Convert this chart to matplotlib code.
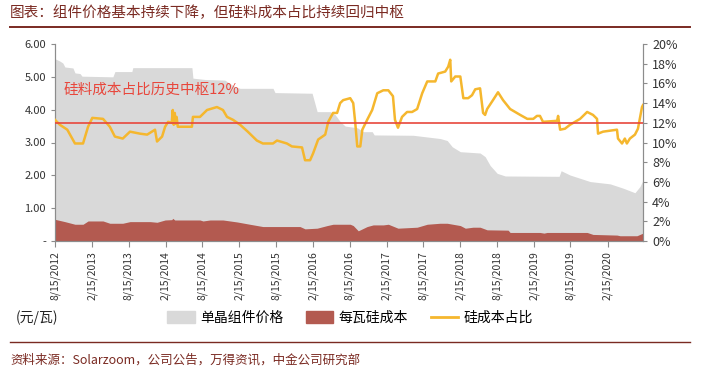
import matplotlib
matplotlib.use('Agg')
import matplotlib.pyplot as plt
from matplotlib.patches import Patch
from matplotlib.lines import Line2D
import pandas as pd

plt.rcParams['font.family'] = ['Noto Sans CJK SC', 'DejaVu Sans']

# module price (yuan/W)
price_dates = ['2012-08-15', '2012-09-08', '2012-09-23', '2012-10-03', '2012-11-12', '2012-11-22',
               '2012-12-17', '2012-12-27', '2013-05-29', '2013-06-08', '2013-08-31', '2013-09-05',
               '2014-06-25', '2014-06-30', '2014-08-29', '2014-12-05', '2015-01-24', '2015-02-19',
               '2015-08-01', '2015-08-11', '2016-02-11', '2016-03-07', '2016-05-10', '2016-06-04',
               '2016-06-29', '2016-07-24', '2016-09-22', '2016-10-22', '2016-12-05', '2016-12-15',
               '2017-06-26', '2017-11-08', '2017-12-12', '2018-01-06', '2018-02-15', '2018-05-24',
               '2018-06-18', '2018-07-13', '2018-08-17', '2018-09-26', '2019-06-20', '2019-06-30',
               '2019-08-13', '2019-11-21', '2020-02-28', '2020-05-02', '2020-06-30', '2020-07-25',
               '2020-08-09']
price = [5.55, 5.48, 5.42, 5.30, 5.27, 5.12,
         5.10, 5.02, 5.00, 5.16, 5.16, 5.28,
         5.28, 4.96, 4.92, 4.90, 4.70, 4.65,
         4.65, 4.52, 4.50, 3.94, 3.94, 3.85,
         3.64, 3.50, 3.45, 3.33, 3.33, 3.23,
         3.22, 3.12, 3.06, 2.87, 2.72, 2.68,
         2.57, 2.30, 2.06, 1.98, 1.97, 2.14,
         2.01, 1.81, 1.74, 1.61, 1.47, 1.66,
         1.85]

# silicon cost per W (yuan/W)
si_dates = ['2012-08-15', '2012-10-03', '2012-11-22', '2013-01-01', '2013-01-26', '2013-04-10',
            '2013-05-14', '2013-07-17', '2013-08-22', '2013-11-30', '2014-01-03', '2014-02-12',
            '2014-03-17', '2014-03-22', '2014-04-01', '2014-08-04', '2014-08-19', '2014-09-23',
            '2014-11-26', '2015-02-04', '2015-04-08', '2015-06-12', '2015-12-13', '2016-01-07',
            '2016-03-07', '2016-04-26', '2016-05-25', '2016-08-18', '2016-09-02', '2016-09-27',
            '2016-11-10', '2016-12-10', '2017-01-29', '2017-02-23', '2017-04-12', '2017-07-16',
            '2017-09-04', '2017-11-06', '2017-12-12', '2018-02-15', '2018-03-12', '2018-04-19',
            '2018-05-24', '2018-06-28', '2018-10-10', '2018-10-20', '2019-03-17', '2019-04-06',
            '2019-04-21', '2019-11-06', '2019-12-05', '2020-04-02', '2020-04-17', '2020-07-10',
            '2020-08-09']
si_cost = [0.66, 0.59, 0.51, 0.51, 0.61, 0.61,
           0.54, 0.54, 0.59, 0.59, 0.57, 0.64,
           0.65, 0.69, 0.64, 0.64, 0.61, 0.64,
           0.64, 0.58, 0.51, 0.44, 0.44, 0.37,
           0.39, 0.47, 0.51, 0.51, 0.47, 0.31,
           0.44, 0.49, 0.49, 0.51, 0.39, 0.42,
           0.51, 0.54, 0.54, 0.47, 0.39, 0.42,
           0.42, 0.34, 0.33, 0.26, 0.26, 0.24,
           0.26, 0.26, 0.20, 0.18, 0.16, 0.16,
           0.24]

# silicon cost share (%)
share_dates = ['2012-08-15', '2012-09-08', '2012-10-15', '2012-11-22', '2013-01-01', '2013-01-26',
               '2013-02-16', '2013-04-10', '2013-05-14', '2013-06-08', '2013-07-17', '2013-08-22',
               '2013-10-10', '2013-11-15', '2013-12-24', '2014-01-03', '2014-01-28', '2014-02-12',
               '2014-02-27', '2014-03-17', '2014-03-22', '2014-03-27', '2014-04-01', '2014-04-05',
               '2014-04-10', '2014-04-16', '2014-06-25', '2014-06-30', '2014-08-04', '2014-09-08',
               '2014-10-27', '2014-11-26', '2014-12-16', '2015-01-15', '2015-02-19', '2015-03-29',
               '2015-05-13', '2015-06-12', '2015-08-01', '2015-08-21', '2015-10-09', '2015-11-03',
               '2015-12-23', '2016-01-07', '2016-02-01', '2016-02-16', '2016-03-12', '2016-04-16',
               '2016-05-01', '2016-05-25', '2016-06-14', '2016-06-29', '2016-07-14', '2016-08-18',
               '2016-09-02', '2016-09-12', '2016-09-22', '2016-10-07', '2016-10-17', '2016-11-10',
               '2016-12-05', '2016-12-30', '2017-01-29', '2017-02-23', '2017-03-18', '2017-03-28',
               '2017-04-12', '2017-05-02', '2017-05-27', '2017-06-21', '2017-07-16', '2017-08-10',
               '2017-09-04', '2017-10-14', '2017-10-28', '2017-12-02', '2017-12-17', '2017-12-27',
               '2018-01-01', '2018-01-21', '2018-02-15', '2018-03-02', '2018-03-26', '2018-04-14',
               '2018-04-30', '2018-05-24', '2018-06-08', '2018-06-18', '2018-06-28', '2018-07-27',
               '2018-08-21', '2018-09-15', '2018-10-20', '2018-12-09', '2019-01-13', '2019-02-12',
               '2019-03-02', '2019-03-17', '2019-04-01', '2019-06-10', '2019-06-15', '2019-06-25',
               '2019-07-19', '2019-08-13', '2019-10-02', '2019-11-06', '2019-12-05', '2019-12-25',
               '2019-12-30', '2020-01-24', '2020-04-02', '2020-04-07', '2020-04-27', '2020-05-11',
               '2020-05-21', '2020-06-05', '2020-06-30', '2020-07-15', '2020-08-04', '2020-08-09']
share = [12.3, 11.8, 11.3, 9.9, 9.9, 11.6,
         12.5, 12.4, 11.6, 10.6, 10.4, 11.1,
         10.9, 10.8, 11.3, 10.1, 10.6, 11.6,
         12.1, 12.0, 13.3, 11.8, 13.0, 11.9,
         12.6, 11.6, 11.6, 12.6, 12.6, 13.3,
         13.6, 13.3, 12.6, 12.3, 11.8, 11.1,
         10.2, 9.9, 9.9, 10.2, 9.9, 9.6,
         9.5, 8.2, 8.2, 8.9, 10.3, 10.8,
         12.1, 13.0, 13.0, 14.0, 14.3, 14.5,
         14.0, 12.0, 9.6, 9.6, 11.3, 12.3,
         13.3, 15.0, 15.3, 15.3, 14.7, 12.3,
         11.5, 12.6, 13.1, 13.1, 13.4, 15.0,
         16.2, 16.2, 17.0, 17.2, 17.7, 18.4,
         16.2, 16.7, 16.7, 14.5, 14.5, 14.8,
         15.4, 15.5, 13.0, 12.8, 13.4, 14.3,
         15.1, 14.3, 13.4, 12.8, 12.4, 12.4,
         12.7, 12.7, 12.1, 12.2, 12.7, 11.3,
         11.4, 11.8, 12.4, 13.1, 12.8, 12.4,
         10.9, 11.1, 11.3, 10.4, 9.9, 10.4,
         9.9, 10.4, 10.8, 11.4, 13.6, 13.8]

center_share = 12

tick_dates = pd.date_range('2012-08-15', periods=16, freq=pd.DateOffset(months=6))

GRAY = '#d9d9d9'
BRICK = '#b35a50'
YELLOW = '#f5b72e'
LINE_RED = '#e8473c'
DARK = '#7a2a22'

fig = plt.figure(figsize=(7.06, 3.85), dpi=100)
ax = fig.add_axes([55 / 706, 1 - 241 / 385, 588 / 706, 197 / 385])
ax2 = ax.twinx()

ax.fill_between(pd.to_datetime(price_dates), 0, price, color=GRAY, linewidth=0, zorder=1)
ax.fill_between(pd.to_datetime(si_dates), 0, si_cost, color=BRICK, linewidth=0, zorder=2)

ax2.plot(pd.to_datetime(share_dates), share, color=YELLOW, lw=1.8, zorder=3)
ax2.axhline(center_share, color=LINE_RED, lw=1.2, zorder=4)

ax.set_xlim(pd.Timestamp('2012-08-15'), pd.Timestamp('2020-08-09'))
ax.set_ylim(0, 6)
ax2.set_ylim(0, 20)

ax.set_yticks([0, 1, 2, 3, 4, 5, 6])
ax.set_yticklabels(['-', '1.00', '2.00', '3.00', '4.00', '5.00', '6.00'])
ax2.set_yticks(range(0, 21, 2))
ax2.set_yticklabels([f'{v}%' for v in range(0, 21, 2)])

ax.set_xticks(tick_dates)
ax.set_xticklabels([f'{d.month}/{d.day}/{d.year}' for d in tick_dates], rotation=90)

for a in (ax, ax2):
    a.spines['top'].set_visible(False)
    for s in a.spines.values():
        s.set_color('#8c8c8c')
        s.set_linewidth(0.8)
    a.tick_params(colors='#8c8c8c', labelcolor='#333333', width=0.8, length=3)
ax.tick_params(axis='y', labelsize=8)
ax.tick_params(axis='x', labelsize=7.5, length=4)
ax2.tick_params(axis='y', labelsize=9)

ax.text(0.014, 0.766, '硅料成本占比历史中枢12%', transform=ax.transAxes,
        color=LINE_RED, fontsize=10.5, va='center', ha='left', zorder=5)

# title and frame lines
fig.text(10 / 706, 1 - 13 / 385, '图表：组件价格基本持续下降，但硅料成本占比持续回归中枢',
         color=DARK, fontsize=10.5, style='italic', va='center', ha='left')
fig.add_artist(Line2D([10 / 706, 690 / 706], [1 - 27 / 385] * 2, color=DARK, lw=1.4))
fig.add_artist(Line2D([10 / 706, 690 / 706], [1 - 342 / 385] * 2, color=DARK, lw=1.0))
fig.text(10 / 706, 1 - 360 / 385, '资料来源：Solarzoom，公司公告，万得资讯，中金公司研究部',
         color=DARK, fontsize=9, style='italic', va='center', ha='left')

fig.text(16 / 706, 1 - 318 / 385, '(元/瓦)', color='#222222', fontsize=10,
         va='center', ha='left')

handles = [Patch(color=GRAY), Patch(color=BRICK), Line2D([], [], color=YELLOW, lw=2)]
labels = ['单晶组件价格', '每瓦硅成本', '硅成本占比']
fig.legend(handles, labels, loc='center', bbox_to_anchor=(350 / 706, 1 - 318 / 385),
           ncol=3, frameon=False, fontsize=10, handlelength=2.0, handleheight=0.9,
           columnspacing=1.6, handletextpad=0.4)

fig.savefig('out.png', dpi=100)
